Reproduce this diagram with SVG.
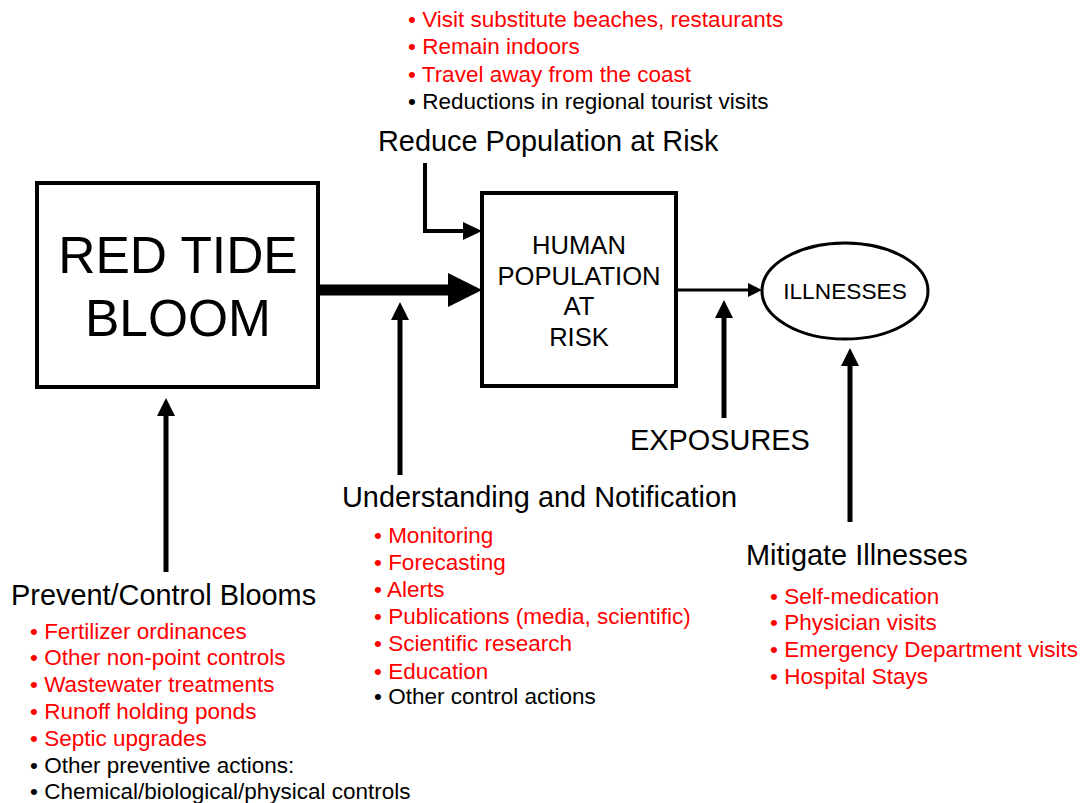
<svg xmlns="http://www.w3.org/2000/svg" width="1080" height="803" viewBox="0 0 1080 803">
<style>
text{font-family:"Liberation Sans",Arial,sans-serif;fill:#000}
.h{font-size:28.9px}
.l{font-size:22.5px}
.r{fill:#ff0000}
.box{fill:#fff;stroke:#000;stroke-width:4}
.c{stroke:#000;fill:none}
</style>
<rect width="1080" height="803" fill="#fff"/>
<g id="connectors">
<line class="c" x1="318" y1="290" x2="450" y2="290" stroke-width="11"/>
<polygon points="448,273 482,290 448,307"/>
<polyline class="c" points="425,163 425,231 466,231" stroke-width="4"/>
<polygon points="463,222 482,231 463,240"/>
<line class="c" x1="400" y1="475" x2="400" y2="318" stroke-width="5"/>
<polygon points="391,320 400,302 409,320"/>
<line class="c" x1="676" y1="290" x2="750" y2="290" stroke-width="3"/>
<polygon points="748,283 762,290 748,297"/>
<line class="c" x1="724" y1="418" x2="724" y2="316" stroke-width="5"/>
<polygon points="715,318 724,300 733,318"/>
<line class="c" x1="850" y1="522" x2="850" y2="364" stroke-width="5"/>
<polygon points="841,366 850,348 859,366"/>
<line class="c" x1="166" y1="572" x2="166" y2="414" stroke-width="5"/>
<polygon points="157,416 166,398 175,416"/>
</g>
<g id="red-tide">
<rect class="box" x="37" y="183" width="281" height="204"/>
<text x="178" y="273" font-size="51.5" text-anchor="middle">RED TIDE</text>
<text x="178" y="336" font-size="51.5" text-anchor="middle">BLOOM</text>
</g>
<g id="human">
<rect class="box" x="482" y="193" width="194" height="193" stroke-width="3"/>
<text x="579" y="254" font-size="25.6" text-anchor="middle">HUMAN</text>
<text x="579" y="285" font-size="25.6" text-anchor="middle">POPULATION</text>
<text x="579" y="315" font-size="25.6" text-anchor="middle">AT</text>
<text x="579" y="346" font-size="25.6" text-anchor="middle">RISK</text>
</g>
<g id="illnesses">
<ellipse cx="845" cy="291" rx="83" ry="48" fill="#fff" stroke="#000" stroke-width="3"/>
<text x="845" y="299" font-size="22.7" text-anchor="middle">ILLNESSES</text>
</g>
<g id="reduce">
<text class="l r" x="408" y="27">• Visit substitute beaches, restaurants</text>
<text class="l r" x="408" y="54">• Remain indoors</text>
<text class="l r" x="408" y="82">• Travel away from the coast</text>
<text class="l" x="408" y="109">• Reductions in regional tourist visits</text>
<text class="h" x="378" y="151">Reduce Population at Risk</text>
</g>
<g id="exposures">
<text class="h" x="630" y="450">EXPOSURES</text>
</g>
<g id="understanding">
<text class="h" x="342" y="507">Understanding and Notification</text>
<text class="l r" x="374" y="543">• Monitoring</text>
<text class="l r" x="374" y="570">• Forecasting</text>
<text class="l r" x="374" y="597">• Alerts</text>
<text class="l r" x="374" y="624">• Publications (media, scientific)</text>
<text class="l r" x="374" y="651">• Scientific research</text>
<text class="l r" x="374" y="679">• Education</text>
<text class="l" x="374" y="704">• Other control actions</text>
</g>
<g id="mitigate">
<text class="h" x="746" y="565">Mitigate Illnesses</text>
<text class="l r" x="770" y="604">• Self-medication</text>
<text class="l r" x="770" y="630">• Physician visits</text>
<text class="l r" x="770" y="657">• Emergency Department visits</text>
<text class="l r" x="770" y="684">• Hospital Stays</text>
</g>
<g id="prevent">
<text class="h" x="11" y="605">Prevent/Control Blooms</text>
<text class="l r" x="30" y="639">• Fertilizer ordinances</text>
<text class="l r" x="30" y="665">• Other non-point controls</text>
<text class="l r" x="30" y="692">• Wastewater treatments</text>
<text class="l r" x="30" y="719">• Runoff holding ponds</text>
<text class="l r" x="30" y="746">• Septic upgrades</text>
<text class="l" x="30" y="773">• Other preventive actions:</text>
<text class="l" x="30" y="799">• Chemical/biological/physical controls</text>
</g>
</svg>
